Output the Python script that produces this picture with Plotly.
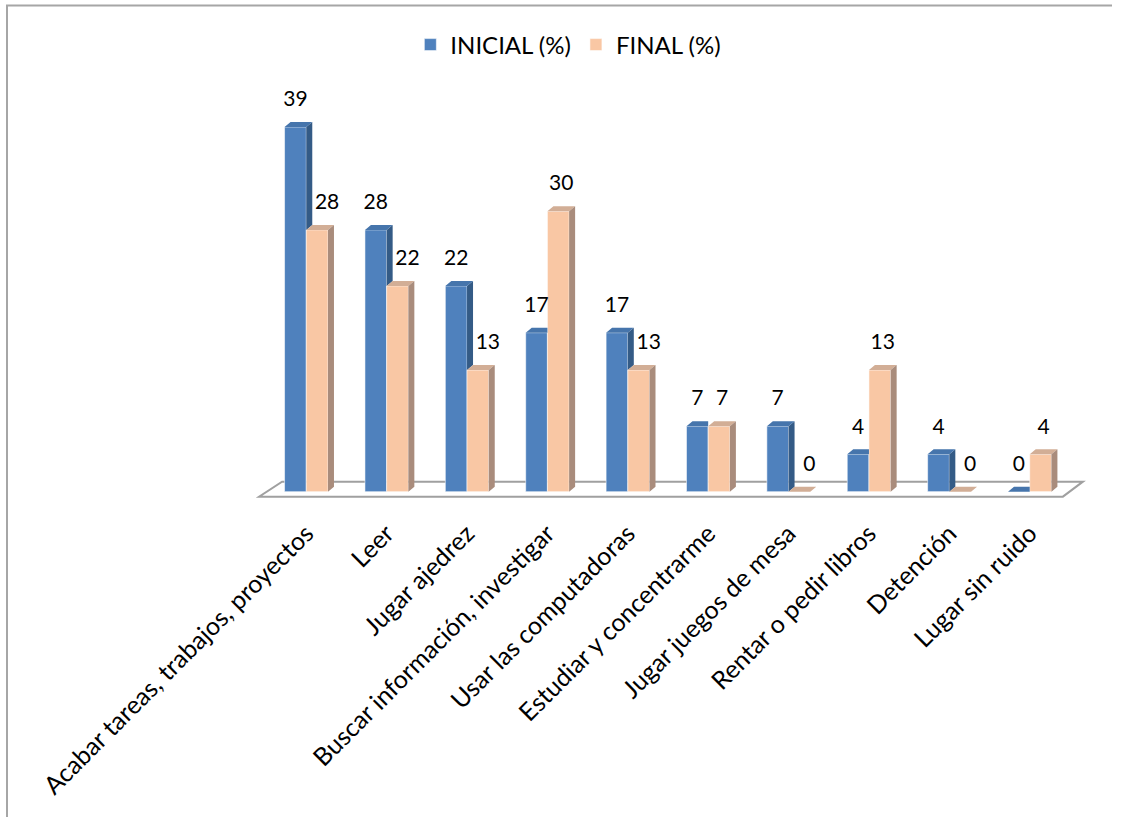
import plotly.graph_objects as go

# ---- data -------------------------------------------------------------
categories = [
    "Acabar tareas, trabajos, proyectos",
    "Leer",
    "Jugar ajedrez",
    "Buscar información, investigar",
    "Usar las computadoras",
    "Estudiar y concentrarme",
    "Jugar juegos de mesa",
    "Rentar o pedir libros",
    "Detención",
    "Lugar sin ruido",
]
inicial = [39, 28, 22, 17, 17, 7, 7, 4, 4, 0]
final = [28, 22, 13, 30, 13, 7, 0, 13, 0, 4]
series_names = ["INICIAL (%)", "FINAL (%)"]

# ---- styling / geometry ----------------------------------------------
FONT = "Lato"
BLUE = dict(front="#4F81BD", side="#345B86", top="#4675AC")
PEACH = dict(front="#F9C7A4", side="#A98C7C", top="#D2AE96")

W, H = 1121, 817
ML, MR, MT, MB = 250, 31, 99, 316
XR = [-0.7, 9.75]
YR = [-1, 42]
px_per_x = (W - ML - MR) / (XR[1] - XR[0])
px_per_y = (H - MT - MB) / (YR[1] - YR[0])

BW = 0.27          # bar width (category units)
DX = 6 / px_per_x  # depth offset of the 3-D faces
DY = 5 / px_per_y

idx = list(range(len(categories)))


def side_poly(xr, v, vbottom=0.0):
    return [xr, xr, xr + DX, xr + DX, xr, None], [vbottom, v, v + DY, vbottom + DY, vbottom, None]


def top_poly(xl, xr, v, clip=False):
    if clip:
        return [xl, xr, xr, xl + DX, xl, None], [v, v, v + DY, v + DY, v, None]
    return [xl, xr, xr + DX, xl + DX, xl, None], [v, v, v + DY, v + DY, v, None]


fig = go.Figure()

# front faces
fig.add_trace(go.Bar(x=idx, y=inicial, width=BW, offset=-BW, name=series_names[0],
                     marker=dict(color=BLUE["front"], line=dict(color="rgba(255,255,255,0.55)", width=1))))
fig.add_trace(go.Bar(x=idx, y=final, width=BW, offset=0.0, name=series_names[1],
                     marker=dict(color=PEACH["front"], line=dict(color="rgba(255,255,255,0.55)", width=1))))

# 3-D side and top faces of the INICIAL bars (hidden parts clipped by the FINAL bar)
bsx, bsy, btx, bty = [], [], [], []
for i, (b, f) in enumerate(zip(inicial, final)):
    xl, xr = i - BW, i
    if b > f:
        sx, sy = side_poly(xr, b, vbottom=f)
        bsx += sx; bsy += sy
    tx, ty = top_poly(xl, xr, b, clip=(f >= b))
    btx += tx; bty += ty

fig.add_trace(go.Scatter(x=bsx, y=bsy, fill="toself", fillcolor=BLUE["side"], mode="lines",
                         line=dict(width=0), hoverinfo="skip", showlegend=False))
fig.add_trace(go.Scatter(x=btx, y=bty, fill="toself", fillcolor=BLUE["top"], mode="lines",
                         line=dict(width=0), hoverinfo="skip", showlegend=False))

# 3-D faces of the FINAL bars
psx, psy, ptx, pty = [], [], [], []
for i, f in enumerate(final):
    xl, xr = i, i + BW
    if f > 0:
        sx, sy = side_poly(xr, f)
        psx += sx; psy += sy
    tx, ty = top_poly(xl, xr, f)
    ptx += tx; pty += ty

fig.add_trace(go.Scatter(x=ptx, y=pty, fill="toself", fillcolor=PEACH["top"], mode="lines",
                         line=dict(width=0), hoverinfo="skip", showlegend=False))
fig.add_trace(go.Scatter(x=psx, y=psy, fill="toself", fillcolor=PEACH["side"], mode="lines",
                         line=dict(width=0), hoverinfo="skip", showlegend=False))

# value labels
LABEL_GAP = 26 / px_per_y
shift = 7 / px_per_x
lx, ly, lt = [], [], []
for i, (b, f) in enumerate(zip(inicial, final)):
    lx.append(i - BW / 2); ly.append(b + LABEL_GAP); lt.append(str(b))
    lx.append(i + BW / 2 + DX / 2 + (shift if b > f else 0)); ly.append(f + LABEL_GAP); lt.append(str(f))
fig.add_trace(go.Scatter(x=lx, y=ly, text=lt, mode="text", textposition="middle center",
                         textfont=dict(family=FONT, size=21, color="#000000"),
                         hoverinfo="skip", showlegend=False, cliponaxis=False))

# floor of the 3-D plot area
floor_front_y, floor_back_y = -5 / px_per_y, 10 / px_per_y
fx0, fx1 = -0.5 - 7 / px_per_x, 9.5 - 7 / px_per_x
bx0, bx1 = -0.5 + 16 / px_per_x, 9.5 + 13 / px_per_x
fig.add_shape(type="path", layer="below", xref="x", yref="y",
              path=f"M {fx0} {floor_front_y} L {fx1} {floor_front_y} L {bx1} {floor_back_y} "
                   f"L {bx0} {floor_back_y} Z",
              line=dict(color="#A0A0A0", width=2), fillcolor="white")

# frame (top and left edges)
pw, ph = W - ML - MR, H - MT - MB
def px2paper_x(p): return (p - ML) / pw
def py2paper_y(p): return (H - MB - p) / ph
fig.add_shape(type="path", xref="paper", yref="paper",
              path=f"M {px2paper_x(7)} {py2paper_y(H)} L {px2paper_x(7)} {py2paper_y(5.5)} "
                   f"L {px2paper_x(1112)} {py2paper_y(5.5)}",
              line=dict(color="#A6A6A6", width=2))

fig.update_layout(
    width=W, height=H,
    margin=dict(l=ML, r=MR, t=MT, b=MB),
    paper_bgcolor="white", plot_bgcolor="white",
    barmode="overlay",
    font=dict(family=FONT, size=20, color="#000000"),
    showlegend=True,
    legend=dict(orientation="h", xref="container", yref="container", x=0.507, y=1 - 45 / H,
                xanchor="center", yanchor="middle", font=dict(family=FONT, size=24, color="#000000"),
                itemwidth=30, bgcolor="rgba(0,0,0,0)"),
    xaxis=dict(range=XR, tickmode="array", tickvals=idx, ticktext=categories, tickangle=-45,
               showgrid=False, zeroline=False, showline=False, ticks="",
               ticklabelstandoff=12, tickfont=dict(family=FONT, size=25, color="#000000")),
    yaxis=dict(range=YR, visible=False, showgrid=False, zeroline=False),
)

fig.write_html("out.html")
